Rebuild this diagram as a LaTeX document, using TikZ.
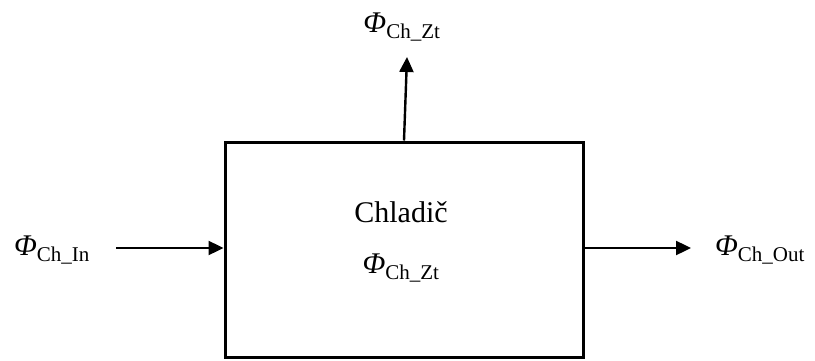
\documentclass[tikz,border=0pt]{standalone}
\usepackage{fontspec}
\setmainfont{Liberation Serif}
\usepackage{amsmath}
\usetikzlibrary{arrows.meta,calc}

\newcommand{\flux}[1]{$\textit{Φ}_{\text{#1}}$}

\tikzset{
  big/.style={inner sep=0pt,font=\fontsize{30}{36}\selectfont},
  flow/.style={line width=2.4pt,-{Triangle[length=15pt,width=14pt]}}
}

\begin{document}
\begin{tikzpicture}[x=1pt,y=1pt]
\useasboundingbox (0,0) rectangle (815,360);
% Chladic
\node[draw,line width=3pt,minimum width=358pt,minimum height=215pt] (chladic) at (404,110.5) {};
\node[big] (name) at (401,148) {Chladič};
\node[big] (zt) at (401,92) {\flux{Ch\_Zt}};
% Stroemungen
\node[big] (in) at (52,110) {\flux{Ch\_In}};
\node[big] (out) at (760,110) {\flux{Ch\_Out}};
\node[big] (top) at (402,333) {\flux{Ch\_Zt}};
\coordinate (instart) at (116,112);
\coordinate (outend) at (691,112);
\coordinate (topend) at (407,303);
\draw[flow] (instart) -- (instart -| chladic.west);
\draw[flow] (outend -| chladic.east) -- (outend);
\draw[flow] (chladic.north) -- (topend);
\end{tikzpicture}
\end{document}
